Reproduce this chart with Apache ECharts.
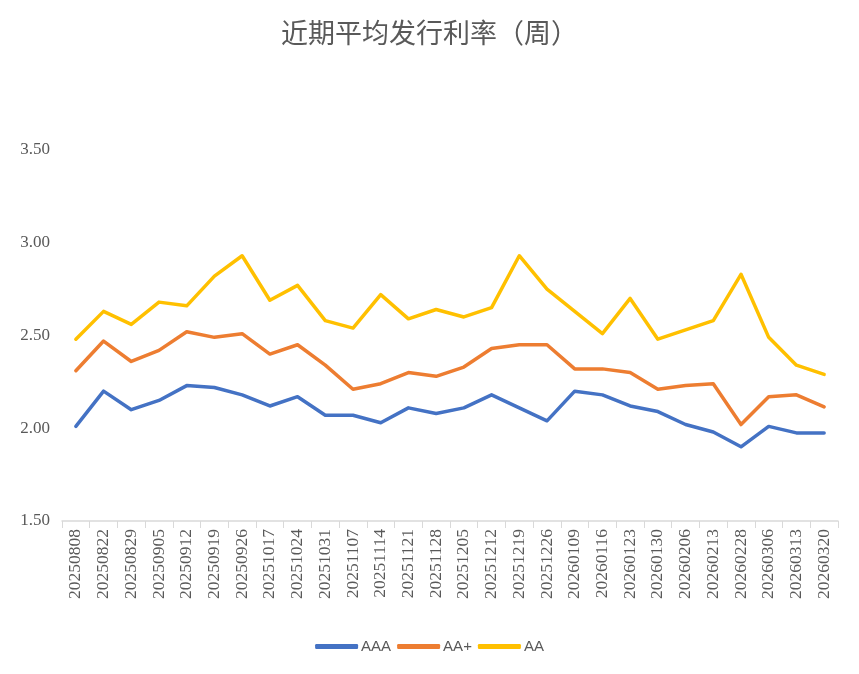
<!DOCTYPE html>
<html><head><meta charset="utf-8">
<script src="https://cdn.jsdelivr.net/npm/echarts@6/dist/echarts.min.js"></script>
<style>html,body{margin:0;padding:0;background:#fff}#c{width:859px;height:674px}</style>
</head><body><div id="c"></div>
<script>
const categories = ['20250808','20250822','20250829','20250905','20250912','20250919','20250926','20251017','20251024','20251031','20251107','20251114','20251121','20251128','20251205','20251212','20251219','20251226','20260109','20260116','20260123','20260130','20260206','20260213','20260228','20260306','20260313','20260320'];
const seriesNames = ['AAA','AA+','AA'];
const aaa = [2.01,2.20,2.10,2.15,2.23,2.22,2.18,2.12,2.17,2.07,2.07,2.03,2.11,2.08,2.11,2.18,2.11,2.04,2.20,2.18,2.12,2.09,2.02,1.98,1.90,2.01,1.975,1.975];
const aaPlus = [2.31,2.47,2.36,2.42,2.52,2.49,2.51,2.40,2.45,2.34,2.21,2.24,2.30,2.28,2.33,2.43,2.45,2.45,2.32,2.32,2.30,2.21,2.23,2.24,2.02,2.17,2.18,2.115];
const aa = [2.48,2.63,2.56,2.68,2.66,2.82,2.93,2.69,2.77,2.58,2.54,2.72,2.59,2.64,2.60,2.65,2.93,2.75,2.63,2.51,2.70,2.48,2.53,2.58,2.83,2.49,2.34,2.29];
const yTicks = {min:1.5, max:3.5, interval:0.5};
const colors = ['#4472C4','#ED7D31','#FFC000'];

const chart = echarts.init(document.getElementById('c'));
const mk = (name, data, color) => ({
  name, type:'line', data, showSymbol:false, symbol:'none',
  lineStyle:{width:3.5, color, cap:'round', join:'round'}, itemStyle:{color}
});
chart.setOption({
  animation:false,
  title:{text:'近期平均发行利率（周）', left:'center', top:14,
    textStyle:{fontFamily:'Noto Sans CJK SC', fontSize:27, fontWeight:'normal', color:'#595959'}},
  legend:{bottom:15, left:'center', icon:'roundRect', itemWidth:43, itemHeight:5, itemGap:6,
    textStyle:{fontFamily:'Liberation Sans', fontSize:15, color:'#595959', padding:[0,0,0,-2]},
    data:seriesNames},
  grid:{left:62, right:21, top:150, bottom:153},
  xAxis:{type:'category', data:categories, boundaryGap:true,
    axisLine:{lineStyle:{color:'#D9D9D9', width:1.5}},
    axisTick:{show:true, alignWithLabel:false, length:7, lineStyle:{color:'#D9D9D9'}},
    axisLabel:{rotate:90, interval:0, fontFamily:'Liberation Serif', fontSize:17.5, color:'#595959', margin:8}},
  yAxis:{type:'value', min:yTicks.min, max:yTicks.max, interval:yTicks.interval,
    axisLine:{show:false}, axisTick:{show:false}, splitLine:{show:false},
    axisLabel:{fontFamily:'Liberation Serif', fontSize:17, color:'#595959', margin:12,
      formatter:v=>v.toFixed(2)}},
  series:[mk(seriesNames[0], aaa, colors[0]), mk(seriesNames[1], aaPlus, colors[1]), mk(seriesNames[2], aa, colors[2])]
});
</script></body></html>
